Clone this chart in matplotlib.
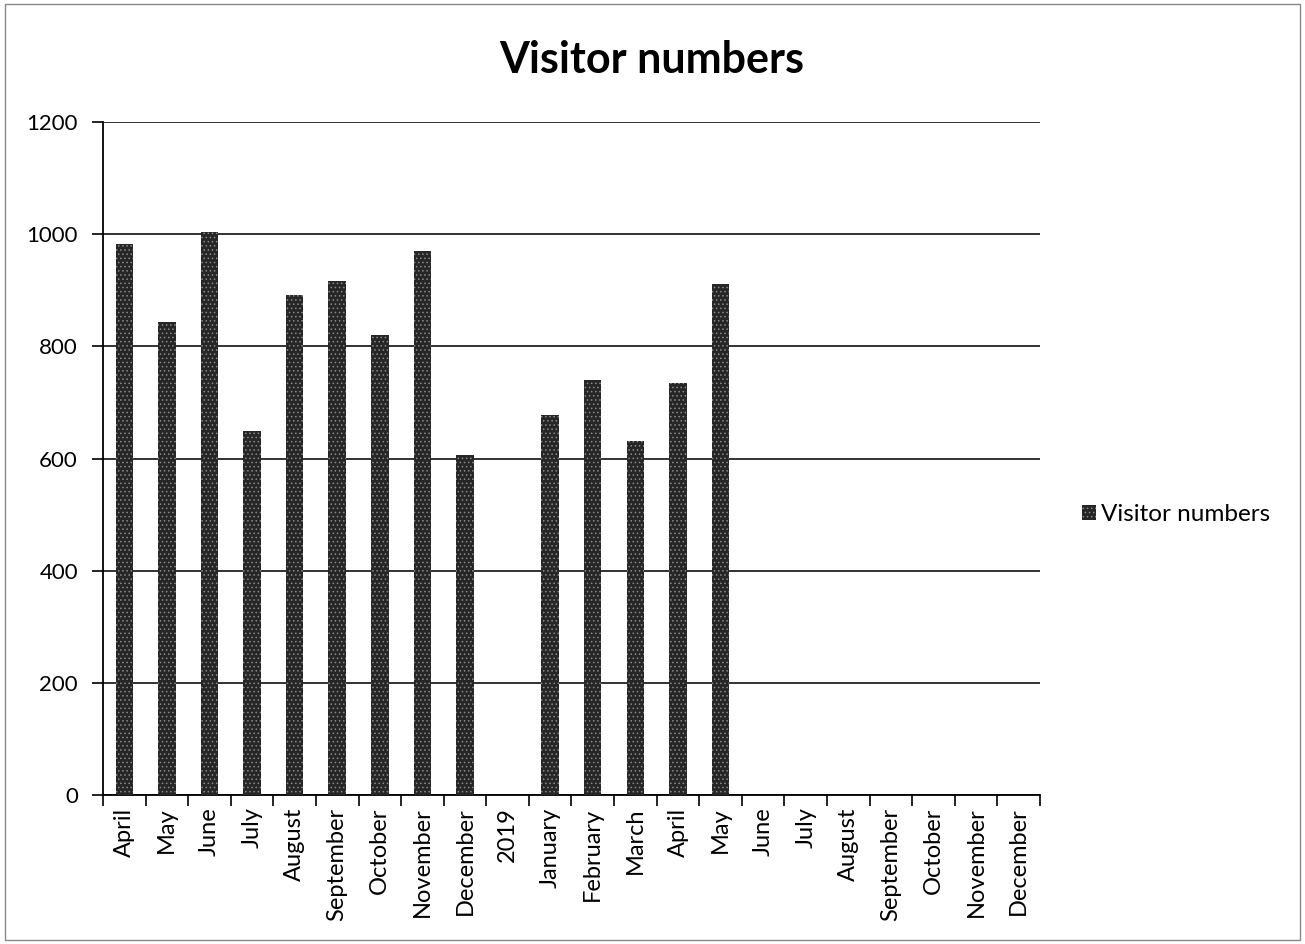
import matplotlib
matplotlib.use("Agg")
import matplotlib.pyplot as plt
from matplotlib.patches import Rectangle, Patch
import numpy as np

plt.rcParams['font.family'] = ['Lato', 'DejaVu Sans']
plt.rcParams['hatch.color'] = '#8a8a8a'
plt.rcParams['hatch.linewidth'] = 0.6

categories = ["April", "May", "June", "July", "August", "September", "October",
              "November", "December", "2019", "January", "February", "March",
              "April", "May", "June", "July", "August", "September", "October",
              "November", "December"]
values = [982, 843, 1003, 649, 891, 916, 820, 970, 606, np.nan, 677, 740, 631,
          734, 911, np.nan, np.nan, np.nan, np.nan, np.nan, np.nan, np.nan]
series_name = "Visitor numbers"
y_ticks = [0, 200, 400, 600, 800, 1000, 1200]

fig = plt.figure(figsize=(13.05, 9.44), dpi=100)
ax = fig.add_axes([0.0789, 0.1578, 0.718, 0.713])

x = np.arange(len(categories))
vals = np.nan_to_num(np.array(values, dtype=float), nan=0.0)
ax.bar(x, vals, width=0.41, color='#262626', hatch='....', edgecolor='#8a8a8a',
       linewidth=0, zorder=3)

ax.set_xlim(-0.5, len(categories) - 0.5)
ax.set_ylim(0, 1200)
ax.set_yticks(y_ticks)
ax.set_yticklabels([str(t) for t in y_ticks], fontsize=16)
ax.set_xticks(x)
ax.set_xticklabels(categories, rotation=90, fontsize=17)
ax.tick_params(axis='x', length=0, pad=9)
ax.set_xticks(np.arange(-0.5, len(categories), 1.0), minor=True)
ax.tick_params(axis='x', which='minor', length=8, width=1.2, color='black')
ax.tick_params(axis='y', length=8, width=1.2, pad=10)

ax.grid(axis='y', color='#222222', linewidth=1.3, zorder=0)
for s in ['top', 'right']:
    ax.spines[s].set_visible(False)
ax.spines['left'].set_linewidth(1.3)
ax.spines['bottom'].set_linewidth(1.3)

fig.text(0.4996, 0.936, "Visitor numbers", ha='center', va='center',
         fontsize=31, fontweight='bold')

handle = Patch(facecolor='#262626', hatch='....', edgecolor='#8a8a8a', linewidth=0)
fig.legend([handle], [series_name], loc='center left',
           bbox_to_anchor=(0.812, 0.455), frameon=False, fontsize=17.5,
           handlelength=0.6, handleheight=0.6, handletextpad=0.2)

fig.patches.append(Rectangle((0.004, 0.004), 0.992, 0.992, transform=fig.transFigure,
                             fill=False, edgecolor='#888888', linewidth=1.0))

fig.savefig("out.png", dpi=100)
